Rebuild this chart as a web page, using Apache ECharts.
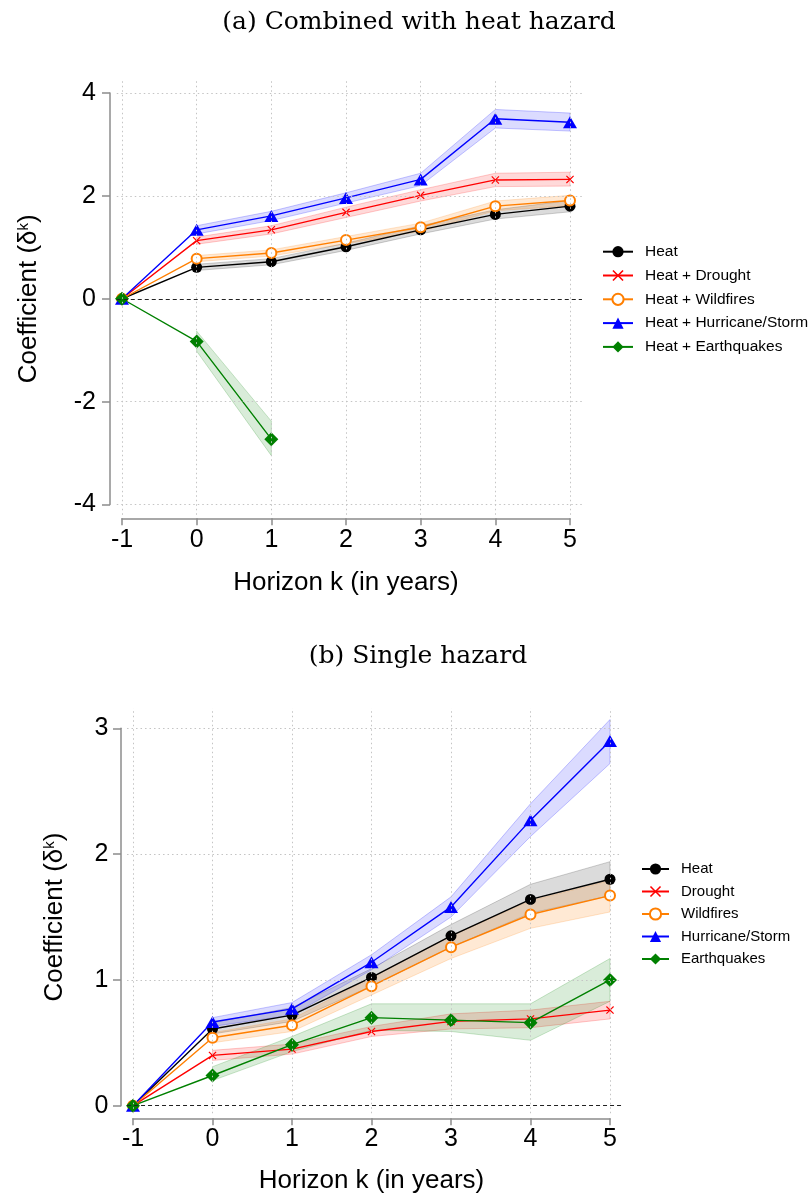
<!DOCTYPE html>
<html>
<head>
<meta charset="utf-8">
<script src="https://cdn.jsdelivr.net/npm/echarts@6/dist/echarts.min.js"></script>
<style>
  html, body { margin: 0; padding: 0; background: #fff; }
  #chart { width: 808px; height: 1195px; }
</style>
</head>
<body>
<div id="chart"></div>
<script>
// horizon k (years relative to the event)
const horizons = [-1, 0, 1, 2, 3, 4, 5];
const xTicks = [-1, 0, 1, 2, 3, 4, 5];
const yTicksA = [-4, -2, 0, 2, 4];
const yTicksB = [0, 1, 2, 3];

// (a) combined with heat hazard
const namesA = ['Heat', 'Heat + Drought', 'Heat + Wildfires', 'Heat + Hurricane/Storm', 'Heat + Earthquakes'];
const heatA = [0, 0.61, 0.72, 1.01, 1.34, 1.64, 1.80];
const heatA_lo = [null, 0.55, 0.66, 0.94, 1.26, 1.55, 1.69];
const heatA_hi = [null, 0.67, 0.78, 1.08, 1.42, 1.73, 1.91];
const droughtA = [0, 1.13, 1.34, 1.68, 2.01, 2.31, 2.32];
const droughtA_lo = [null, 1.06, 1.26, 1.58, 1.90, 2.18, 2.19];
const droughtA_hi = [null, 1.20, 1.42, 1.78, 2.12, 2.44, 2.46];
const wildA = [0, 0.78, 0.89, 1.14, 1.39, 1.80, 1.91];
const wildA_lo = [null, 0.72, 0.83, 1.07, 1.31, 1.71, 1.81];
const wildA_hi = [null, 0.84, 0.95, 1.21, 1.47, 1.90, 2.01];
const hurrA = [0, 1.34, 1.61, 1.96, 2.32, 3.50, 3.43];
const hurrA_lo = [null, 1.26, 1.52, 1.86, 2.20, 3.32, 3.26];
const hurrA_hi = [null, 1.42, 1.70, 2.06, 2.44, 3.68, 3.61];
const quakeA = [0, -0.83, -2.73, null, null, null, null];
const quakeA_lo = [null, -1.02, -3.05, null, null, null, null];
const quakeA_hi = [null, -0.63, -2.38, null, null, null, null];

// (b) single hazard
const namesB = ['Heat', 'Drought', 'Wildfires', 'Hurricane/Storm', 'Earthquakes'];
const heatB = [0, 0.61, 0.72, 1.02, 1.35, 1.64, 1.80];
const heatB_lo = [null, 0.57, 0.67, 0.95, 1.26, 1.53, 1.67];
const heatB_hi = [null, 0.66, 0.78, 1.09, 1.44, 1.76, 1.94];
const droughtB = [0, 0.40, 0.45, 0.59, 0.67, 0.69, 0.76];
const droughtB_lo = [null, 0.36, 0.41, 0.55, 0.61, 0.62, 0.69];
const droughtB_hi = [null, 0.44, 0.49, 0.63, 0.73, 0.76, 0.83];
const wildB = [0, 0.54, 0.64, 0.95, 1.26, 1.52, 1.67];
const wildB_lo = [null, 0.50, 0.59, 0.88, 1.17, 1.41, 1.54];
const wildB_hi = [null, 0.58, 0.69, 1.02, 1.35, 1.63, 1.79];
const hurrB = [0, 0.665, 0.77, 1.14, 1.58, 2.27, 2.90];
const hurrB_lo = [null, 0.63, 0.72, 1.08, 1.50, 2.14, 2.72];
const hurrB_hi = [null, 0.70, 0.82, 1.20, 1.66, 2.40, 3.07];
const quakeB = [0, 0.24, 0.485, 0.70, 0.68, 0.66, 1.00];
const quakeB_lo = [null, 0.20, 0.43, 0.60, 0.59, 0.52, 0.83];
const quakeB_hi = [null, 0.31, 0.55, 0.81, 0.81, 0.81, 1.17];

const FONT = '"Liberation Sans", Arial, Helvetica, sans-serif';
const SERIF = '"DejaVu Serif", "Liberation Serif", serif';
const AXIS_GRAY = '#8c8c8c';
const X_PATH = 'path://M0,1L1,0L5,4L9,0L10,1L6,5L10,9L9,10L5,6L1,10L0,9L4,5Z';

// one look per hazard, same order as the legend
const looks = [
  { color: '#000000', band: 'rgba(0,0,0,0.14)', edge: 'rgba(0,0,0,0.18)', symbol: 'circle', size: 11 },
  { color: '#ff0000', band: 'rgba(255,0,0,0.15)', edge: 'rgba(255,0,0,0.2)', symbol: X_PATH, size: 8 },
  { color: '#ff7f00', band: 'rgba(255,127,0,0.17)', edge: 'rgba(255,127,0,0.2)', symbol: 'emptyCircle', size: 10 },
  { color: '#0000ff', band: 'rgba(0,0,255,0.14)', edge: 'rgba(0,0,255,0.22)', symbol: 'triangle', size: [14, 12] },
  { color: '#008000', band: 'rgba(0,128,0,0.15)', edge: 'rgba(0,128,0,0.2)', symbol: 'diamond', size: [14, 14] }
];

const panels = [
  {
    X0: 122, X1: 570, YT: 93, YB: 504.5, yMin: -4, yMax: 4, yStep: 2, yTicks: yTicksA,
    ext: [-1.07, 5.16, -4.2, 4.25],
    names: namesA,
    values: [heatA, droughtA, wildA, hurrA, quakeA],
    lows: [heatA_lo, droughtA_lo, wildA_lo, hurrA_lo, quakeA_lo],
    highs: [heatA_hi, droughtA_hi, wildA_hi, hurrA_hi, quakeA_hi],
    xOffset: 13.8, yOffset: 12, xNameGap: 52, yNameGap: 68, xLabelMargin: 9, yLabelMargin: 14,
    legend: { left: 597, top: 238.7, gap: 7.8, width: 30, size: 15.5 }
  },
  {
    X0: 133, X1: 610, YT: 728.3, YB: 1105.7, yMin: 0, yMax: 3, yStep: 1, yTicks: yTicksB,
    ext: [-1.075, 5.147, -0.06, 3.16],
    names: namesB,
    values: [heatB, droughtB, wildB, hurrB, quakeB],
    lows: [heatB_lo, droughtB_lo, wildB_lo, hurrB_lo, quakeB_lo],
    highs: [heatB_hi, droughtB_hi, wildB_hi, hurrB_hi, quakeB_hi],
    xOffset: 12.6, yOffset: 12, xNameGap: 50, yNameGap: 53, xLabelMargin: 8, yLabelMargin: 12.5,
    legend: { left: 636, top: 856, gap: 6.5, width: 27, size: 15 }
  }
];

const grid = [], xAxis = [], yAxis = [], series = [], legend = [];

const gridLine = { color: '#c4c4c4', width: 1, type: [1.5, 3] };
const zeroLine = { color: '#222', width: 1, type: [4, 3] };

panels.forEach(function (p, i) {
  const plot = 2 * i, ax = 2 * i + 1;
  const sx = (p.X1 - p.X0) / 6;
  const sy = (p.YB - p.YT) / (p.yMax - p.yMin);

  // plotting region (a bit wider than the tick range, like Stata)
  grid.push({
    left: p.X0 + (p.ext[0] + 1) * sx,
    width: (p.ext[1] - p.ext[0]) * sx,
    top: p.YT - (p.ext[3] - p.yMax) * sy,
    height: (p.ext[3] - p.ext[2]) * sy,
    outerBoundsMode: 'none'
  });
  xAxis.push({ type: 'value', gridIndex: plot, min: p.ext[0], max: p.ext[1], show: false });
  yAxis.push({ type: 'value', gridIndex: plot, min: p.ext[2], max: p.ext[3], show: false });

  // axes drawn from the first to the last tick, set off from the plot region
  grid.push({ left: p.X0, width: p.X1 - p.X0, top: p.YT, height: p.YB - p.YT, outerBoundsMode: 'none' });
  xAxis.push({
    type: 'value', gridIndex: ax, min: -1, max: 5, interval: 1, position: 'bottom', offset: p.xOffset,
    axisLine: { show: true, onZero: false, lineStyle: { color: AXIS_GRAY, width: 1.5 } },
    axisTick: { show: true, length: 7, lineStyle: { color: AXIS_GRAY, width: 1.5 } },
    axisLabel: { fontSize: 25, color: '#000', fontFamily: FONT, margin: p.xLabelMargin },
    splitLine: { show: false },
    name: 'Horizon k (in years)', nameLocation: 'middle', nameGap: p.xNameGap, nameMoveOverlap: false,
    nameTextStyle: { fontSize: 26, color: '#000', fontFamily: FONT }
  });
  yAxis.push({
    type: 'value', gridIndex: ax, min: p.yMin, max: p.yMax, interval: p.yStep, position: 'left', offset: p.yOffset,
    axisLine: { show: true, onZero: false, lineStyle: { color: AXIS_GRAY, width: 1.5 } },
    axisTick: { show: true, length: 8, lineStyle: { color: AXIS_GRAY, width: 1.5 } },
    axisLabel: { fontSize: 25, color: '#000', fontFamily: FONT, margin: p.yLabelMargin },
    splitLine: { show: false },
    name: 'Coefficient (δ{sup|k})', nameLocation: 'middle', nameGap: p.yNameGap, nameMoveOverlap: false,
    nameTextStyle: {
      fontSize: 26, color: '#000', fontFamily: FONT,
      rich: { sup: { fontSize: 15, color: '#000', fontFamily: FONT, verticalAlign: 'top' } }
    }
  });

  // dotted grid and dashed zero line
  const marks = xTicks.map(function (v) { return { xAxis: v, lineStyle: gridLine }; })
    .concat(p.yTicks.filter(function (v) { return v !== 0; }).map(function (v) { return { yAxis: v, lineStyle: gridLine }; }))
    .concat([{ yAxis: 0, lineStyle: zeroLine }]);
  series.push({
    type: 'line', xAxisIndex: plot, yAxisIndex: plot, data: [], silent: true, z: 0,
    markLine: { silent: true, symbol: ['none', 'none'], label: { show: false }, animation: false, data: marks }
  });

  // confidence bands
  p.values.forEach(function (vals, s) {
    const lo = p.lows[s], hi = p.highs[s], look = looks[s];
    series.push({
      type: 'custom', xAxisIndex: plot, yAxisIndex: plot, silent: true, z: 1,
      data: [[0, 0]],
      renderItem: function (params, api) {
        const upper = [], lower = [];
        horizons.forEach(function (k, j) {
          if (lo[j] == null || hi[j] == null) return;
          upper.push(api.coord([k, hi[j]]));
          lower.push(api.coord([k, lo[j]]));
        });
        return {
          type: 'polygon',
          shape: { points: upper.concat(lower.reverse()) },
          style: { fill: look.band, stroke: look.edge, lineWidth: 1 }
        };
      }
    });
  });

  // point estimates
  p.values.forEach(function (vals, s) {
    const look = looks[s];
    series.push({
      type: 'line', name: p.names[s], xAxisIndex: plot, yAxisIndex: plot, z: 3, silent: true,
      data: horizons.map(function (k, j) { return [k, vals[j] == null ? '-' : vals[j]]; }),
      symbol: look.symbol, symbolSize: look.size, showSymbol: true, connectNulls: false,
      lineStyle: { color: look.color, width: 1.4 },
      itemStyle: { color: look.color, borderColor: look.color, borderWidth: look.symbol === 'emptyCircle' ? 1.2 : 0 }
    });
  });

  legend.push({
    orient: 'vertical', left: p.legend.left, top: p.legend.top, itemWidth: p.legend.width, itemHeight: 14,
    itemGap: p.legend.gap, selectedMode: false, data: p.names,
    formatter: function (n) { return '{g| }' + n; },
    textStyle: { fontSize: p.legend.size, lineHeight: 16, color: '#000', fontFamily: FONT, rich: { g: { width: 7 } } }
  });
});

const chart = echarts.init(document.getElementById('chart'), null, { renderer: 'canvas' });
chart.setOption({
  animation: false,
  backgroundColor: '#fff',
  textStyle: { fontFamily: FONT },
  grid: grid, xAxis: xAxis, yAxis: yAxis, legend: legend, series: series,
  graphic: [
    { type: 'text', x: 419, y: 22, style: { text: '(a) Combined with heat hazard', font: '25px ' + SERIF, fill: '#000', textAlign: 'center', textVerticalAlign: 'middle' } },
    { type: 'text', x: 418, y: 656, style: { text: '(b) Single hazard', font: '25px ' + SERIF, fill: '#000', textAlign: 'center', textVerticalAlign: 'middle' } }
  ]
});
</script>
</body>
</html>
